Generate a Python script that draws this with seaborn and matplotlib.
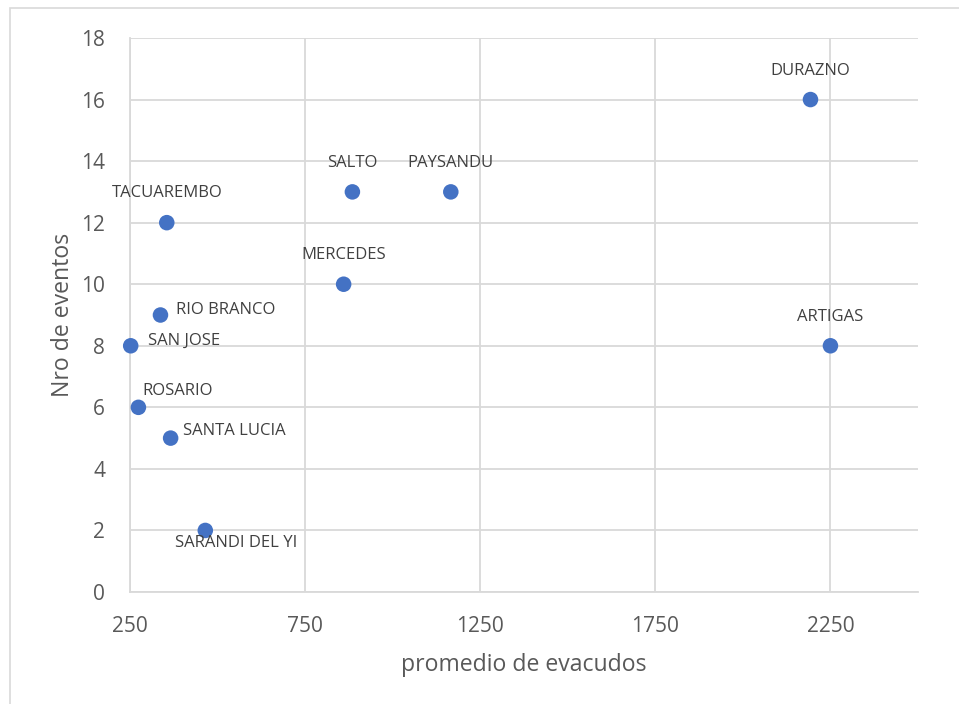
import matplotlib
matplotlib.use("Agg")
import matplotlib.pyplot as plt
import seaborn as sns
import pandas as pd
from matplotlib.patches import Rectangle

# Average evacuees vs. number of flood events per city
cities = ["DURAZNO", "ARTIGAS", "SALTO", "PAYSANDU", "MERCEDES", "TACUAREMBO",
          "RIO BRANCO", "SAN JOSE", "ROSARIO", "SANTA LUCIA", "SARANDI DEL YI"]
promedio = [2193, 2250, 885, 1166, 860, 355, 337, 252, 274, 366, 465]
eventos = [16, 8, 13, 13, 10, 12, 9, 8, 6, 5, 2]

x_ticks = [250, 750, 1250, 1750, 2250]
y_ticks = [0, 2, 4, 6, 8, 10, 12, 14, 16, 18]

# label placement: (dx px, dy px, horizontal alignment)
label_pos = {
    "DURAZNO": (0, 29, "center"),
    "ARTIGAS": (0, 29, "center"),
    "SALTO": (0, 29, "center"),
    "PAYSANDU": (0, 29, "center"),
    "MERCEDES": (0, 29, "center"),
    "TACUAREMBO": (0, 30, "center"),
    "RIO BRANCO": (16, 5, "left"),
    "SAN JOSE": (17, 5, "left"),
    "ROSARIO": (4, 16, "left"),
    "SANTA LUCIA": (12, 7, "left"),
    "SARANDI DEL YI": (31, -13, "center"),
}

df = pd.DataFrame({"ciudad": cities, "promedio": promedio, "eventos": eventos})

sns.set_theme(style="white")
plt.rcParams["font.family"] = ["Open Sans", "DejaVu Sans"]

fig = plt.figure(figsize=(9.59, 7.04), dpi=100)
ax = fig.add_axes([130 / 959, 1 - 592 / 704, (918 - 130) / 959, (592 - 38) / 704])

grid_c = "#d9d9d9"
text_c = "#595959"

sns.scatterplot(data=df, x="promedio", y="eventos", ax=ax, s=125,
                color="#4472C4", edgecolor="none", zorder=3, clip_on=False)

ax.set_xlim(250, 2500)
ax.set_ylim(0, 18)
ax.set_xticks(x_ticks)
ax.set_yticks(y_ticks)
ax.grid(True, color=grid_c, linewidth=1.3, zorder=0)
ax.set_axisbelow(True)
for side in ["top", "right"]:
    ax.spines[side].set_visible(False)
for side in ["left", "bottom"]:
    ax.spines[side].set_color(grid_c)
    ax.spines[side].set_linewidth(1.3)
ax.tick_params(axis="both", length=0, labelsize=15, labelcolor=text_c)
ax.tick_params(axis="y", pad=18)
ax.tick_params(axis="x", pad=17)

ax.set_xlabel("promedio de evacudos", fontsize=16.6, color=text_c, labelpad=12)
ax.set_ylabel("Nro de eventos", fontsize=16.6, color=text_c, labelpad=4)

for name, xv, yv in zip(cities, promedio, eventos):
    dx, dy, ha = label_pos[name]
    ax.annotate(name, (xv, yv), xytext=(dx, dy), textcoords="offset pixels",
                ha=ha, va="center", fontsize=12, color="#404040", zorder=4)

# outer chart border
fig.patches.append(Rectangle((10 / 959, -0.01), 1.0, 1 - 8 / 704 + 0.01,
                             transform=fig.transFigure, fill=False,
                             edgecolor="#d9d9d9", linewidth=1.2))

fig.savefig("out.png", dpi=100, facecolor="white")
